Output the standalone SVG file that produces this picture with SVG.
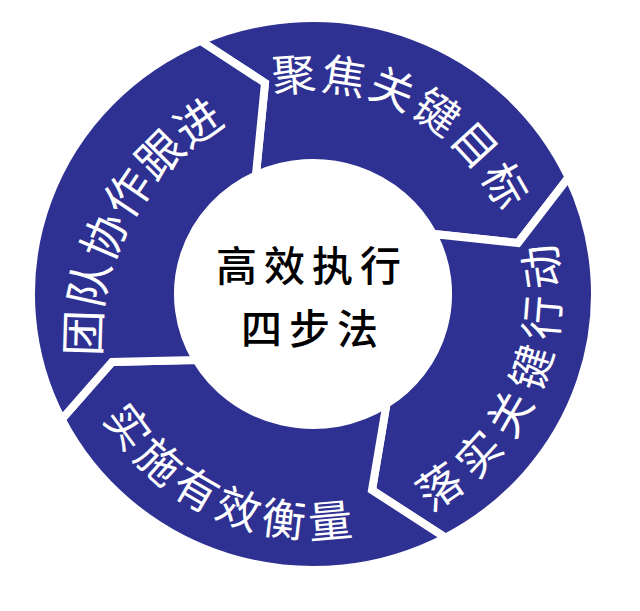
<svg xmlns="http://www.w3.org/2000/svg" xmlns:xlink="http://www.w3.org/1999/xlink" width="640" height="611" viewBox="0 0 640 611">
  <style>
    .seg { fill: #2e3192; stroke: #ffffff; stroke-width: 8; stroke-linejoin: miter; }
    .lbl { fill: #ffffff; font-family: "Noto Sans CJK SC", "Noto Sans", sans-serif; font-size: 44px; }
    .ctr { fill: #000000; font-family: "Noto Sans CJK SC", "Noto Sans", sans-serif; font-size: 41px; font-weight: 500; letter-spacing: 7px; text-anchor: middle; }
  </style>
  <defs>
    <path id="arcA" d="M128.1,201 A207,207 0 0 1 497.9,387"/>
    <path id="arcB" d="M209.1,517.8 A246.7,246.7 0 0 0 416.9,70.2"/>
    <path id="arcC" d="M92.1,191 A243.7,243.7 0 0 0 533.9,397"/>
    <path id="arcD" d="M226.3,555.6 A246.5,246.5 0 0 1 457.7,120.4"/>
  </defs>
  <rect width="640" height="611" fill="#ffffff"/>

  <g id="node-focus-goals">
    <path class="seg" d="M200.6,40.9 A282,276 0 0 1 568.6,177.4 L518,243 L433,233.9 A135,131 0 0 0 255.9,175.3 L265,83 Z"/>
    <text class="lbl" style="letter-spacing:2.6px"><textPath xlink:href="#arcA" href="#arcA" startOffset="326.5" text-anchor="middle">聚焦关键目标</textPath></text>
  </g>

  <g id="node-key-actions">
    <path class="seg" d="M568.6,177.4 A282,276 0 0 1 445.4,537.7 L372,490 L386.5,403.9 A135,131 0 0 0 433,233.9 L518,243 Z"/>
    <text class="lbl" style="letter-spacing:10.7px"><textPath xlink:href="#arcB" href="#arcB" startOffset="392.9" text-anchor="middle">落实关键行动</textPath></text>
  </g>

  <g id="node-measure">
    <path class="seg" d="M445.4,537.7 A282,276 0 0 1 61.7,419.3 L112,362 L196.3,359.9 A135,131 0 0 0 386.5,403.9 L372,490 Z"/>
    <text class="lbl" style="letter-spacing:5.9px"><textPath xlink:href="#arcC" href="#arcC" startOffset="385.8" text-anchor="middle">实施有效衡量</textPath></text>
  </g>

  <g id="node-team-follow">
    <path class="seg" d="M61.7,419.3 A282,276 0 0 1 200.6,40.9 L265,83 L255.9,175.3 A135,131 0 0 0 196.3,359.9 L112,362 Z"/>
    <text class="lbl" style="font-size:46px;letter-spacing:0.5px"><textPath xlink:href="#arcD" href="#arcD" startOffset="385" text-anchor="middle">团队协作跟进</textPath></text>
  </g>

  <g id="node-center">
    <ellipse cx="313" cy="294" rx="135" ry="131" fill="#ffffff"/>
    <text class="ctr" x="312" y="281">高效执行</text>
    <text class="ctr" x="313" y="344">四步法</text>
  </g>
</svg>
